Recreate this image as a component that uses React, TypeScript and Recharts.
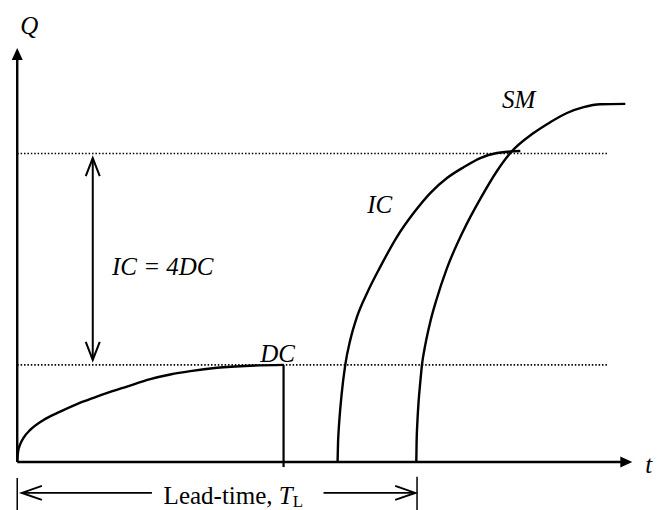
import { ComposedChart, Line, Scatter, XAxis, YAxis } from "recharts";

const FONT = '"Liberation Serif", "Times New Roman", serif';

// data units: t along the time axis, Q up the vertical axis
const T_DOMAIN = [-0.28, 10.45];
const Q_DOMAIN = [-1.15, 11.08];

const dcCurve = [
  { t: 0, q: 0 },
  { t: 0.013, q: 0.24 },
  { t: 0.049, q: 0.43 },
  { t: 0.102, q: 0.58 },
  { t: 0.211, q: 0.77 },
  { t: 0.428, q: 1.01 },
  { t: 0.699, q: 1.21 },
  { t: 0.971, q: 1.39 },
  { t: 1.241, q: 1.54 },
  { t: 1.512, q: 1.68 },
  { t: 1.784, q: 1.81 },
  { t: 2.163, q: 1.99 },
  { t: 2.488, q: 2.1 },
  { t: 2.813, q: 2.18 },
  { t: 3.247, q: 2.26 },
  { t: 3.789, q: 2.31 },
  { t: 4.33, q: 2.33 },
];

const icCurve = [
  { t: 5.208, q: 0 },
  { t: 5.216, q: 0.48 },
  { t: 5.224, q: 0.72 },
  { t: 5.241, q: 1.08 },
  { t: 5.273, q: 1.61 },
  { t: 5.333, q: 2.33 },
  { t: 5.415, q: 2.93 },
  { t: 5.523, q: 3.48 },
  { t: 5.696, q: 4.08 },
  { t: 5.902, q: 4.68 },
  { t: 6.174, q: 5.4 },
  { t: 6.444, q: 5.97 },
  { t: 6.715, q: 6.45 },
  { t: 6.987, q: 6.81 },
  { t: 7.257, q: 7.07 },
  { t: 7.528, q: 7.29 },
  { t: 7.8, q: 7.41 },
  { t: 8.179, q: 7.46 },
];

const smCurve = [
  { t: 6.488, q: 0 },
  { t: 6.493, q: 0.48 },
  { t: 6.504, q: 0.91 },
  { t: 6.525, q: 1.44 },
  { t: 6.553, q: 1.92 },
  { t: 6.58, q: 2.33 },
  { t: 6.634, q: 2.81 },
  { t: 6.715, q: 3.36 },
  { t: 6.813, q: 3.88 },
  { t: 6.987, q: 4.65 },
  { t: 7.257, q: 5.56 },
  { t: 7.528, q: 6.31 },
  { t: 7.8, q: 6.98 },
  { t: 8.016, q: 7.41 },
  { t: 8.395, q: 7.89 },
  { t: 8.667, q: 8.15 },
  { t: 8.938, q: 8.37 },
  { t: 9.208, q: 8.51 },
  { t: 9.48, q: 8.58 },
  { t: 9.886, q: 8.59 },
];

const DC_LEVEL = 2.33;
const IC_LEVEL = 7.4;
const DOTTED_END = 9.59;
const DC_END = 4.33;
const LEAD_END = 6.5;
const LEAD_Q = -0.74;

const straightLines = [
  { id: "yAxis", w: 2.4, pts: [{ t: 0, q: 0 }, { t: 0, q: 9.7 }] },
  { id: "xAxis", w: 2.4, pts: [{ t: 0, q: 0 }, { t: 9.85, q: 0 }] },
  { id: "dcDrop", w: 2.2, pts: [{ t: DC_END, q: DC_LEVEL }, { t: DC_END, q: -0.12 }] },
  { id: "gap", w: 2, pts: [{ t: 1.228, q: 7.28 }, { t: 1.228, q: 2.46 }] },
  { id: "leadLeft", w: 1.8, pts: [{ t: 0.08, q: LEAD_Q }, { t: 2.19, q: LEAD_Q }] },
  { id: "leadRight", w: 1.8, pts: [{ t: 4.98, q: LEAD_Q }, { t: 6.45, q: LEAD_Q }] },
  { id: "barLeft", w: 1.5, pts: [{ t: 0, q: -0.38 }, { t: 0, q: -1.15 }] },
  { id: "barRight", w: 1.5, pts: [{ t: LEAD_END, q: -0.35 }, { t: LEAD_END, q: -1.15 }] },
];

const dottedLines = [
  [{ t: 0, q: DC_LEVEL }, { t: DOTTED_END, q: DC_LEVEL }],
  [{ t: 0, q: IC_LEVEL }, { t: DOTTED_END, q: IC_LEVEL }],
];

const arrowHeads = [
  { t: 0, q: 9.93, dir: "up", kind: "solid" },
  { t: 10.0, q: 0, dir: "right", kind: "solid" },
  { t: 1.228, q: 7.29, dir: "up", kind: "open" },
  { t: 1.228, q: 2.45, dir: "down", kind: "open" },
  { t: 0.076, q: LEAD_Q, dir: "left", kind: "lead" },
  { t: 6.47, q: LEAD_Q, dir: "right", kind: "lead" },
];

const labels = [
  { id: "Q", t: 0.049, q: 10.26, text: "Q" },
  { id: "t", t: 10.21, q: -0.26, text: "t" },
  { id: "DC", t: 3.95, q: 2.4, text: "DC" },
  { id: "IC", t: 5.69, q: 5.98, text: "IC" },
  { id: "SM", t: 7.88, q: 8.48, text: "SM" },
  { id: "ratio", t: 1.54, q: 4.48, text: "IC = 4DC" },
  { id: "lead", t: 2.38, q: -1.0, text: "Lead-time, " },
];

const DIRS: Record<string, [number, number]> = {
  up: [0, -1],
  down: [0, 1],
  left: [-1, 0],
  right: [1, 0],
};

function ArrowHead(props: any) {
  const { cx, cy } = props;
  const p = props.payload ?? props;
  const [dx, dy] = DIRS[p.dir];
  const len = p.kind === "solid" ? 12 : p.kind === "open" ? 18 : 20;
  const half = p.kind === "solid" ? 5.5 : 7;
  const bx = cx - len * dx;
  const by = cy - len * dy;
  const a = `${bx - half * dy},${by + half * dx}`;
  const b = `${bx + half * dy},${by - half * dx}`;
  if (p.kind === "solid") {
    return <polygon points={`${cx},${cy} ${a} ${b}`} fill="#000" />;
  }
  return (
    <polyline
      points={`${a} ${cx},${cy} ${b}`}
      fill="none"
      stroke="#000"
      strokeWidth={2}
    />
  );
}

function Label(props: any) {
  const { cx, cy } = props;
  const p = props.payload ?? props;
  if (p.id === "lead") {
    return (
      <text x={cx} y={cy} fontFamily={FONT} fontSize={25} fill="#000">
        <tspan>{p.text}</tspan>
        <tspan fontStyle="italic">T</tspan>
        <tspan fontSize={17} dy={3}>L</tspan>
      </text>
    );
  }
  return (
    <text
      x={cx}
      y={cy}
      fontFamily={FONT}
      fontSize={25}
      fontStyle="italic"
      fill="#000"
    >
      {p.text}
    </text>
  );
}

export default function App() {
  return (
    <div style={{ position: "absolute", left: 0, top: 0, background: "#fff" }}>
      <ComposedChart width={660} height={510} margin={{ top: 0, right: 0, bottom: 0, left: 0 }}>
        <XAxis dataKey="t" type="number" domain={T_DOMAIN} allowDataOverflow hide />
        <YAxis dataKey="q" type="number" domain={Q_DOMAIN} allowDataOverflow hide />

        {dottedLines.map((pts, i) => (
          <Line
            key={`dot${i}`}
            data={pts}
            dataKey="q"
            type="linear"
            stroke="#000"
            strokeWidth={1.6}
            strokeDasharray="1.5 1.9"
            dot={false}
            activeDot={false}
            isAnimationActive={false}
          />
        ))}

        {straightLines.map((s) => (
          <Line
            key={s.id}
            data={s.pts}
            dataKey="q"
            type="linear"
            stroke="#000"
            strokeWidth={s.w}
            dot={false}
            activeDot={false}
            isAnimationActive={false}
          />
        ))}

        {[dcCurve, icCurve, smCurve].map((c, i) => (
          <Line
            key={`curve${i}`}
            data={c}
            dataKey="q"
            type="monotone"
            stroke="#000"
            strokeWidth={2.4}
            dot={false}
            activeDot={false}
            isAnimationActive={false}
          />
        ))}

        <Scatter data={arrowHeads} shape={ArrowHead} isAnimationActive={false} />
        <Scatter data={labels} shape={Label} isAnimationActive={false} />
      </ComposedChart>
    </div>
  );
}
